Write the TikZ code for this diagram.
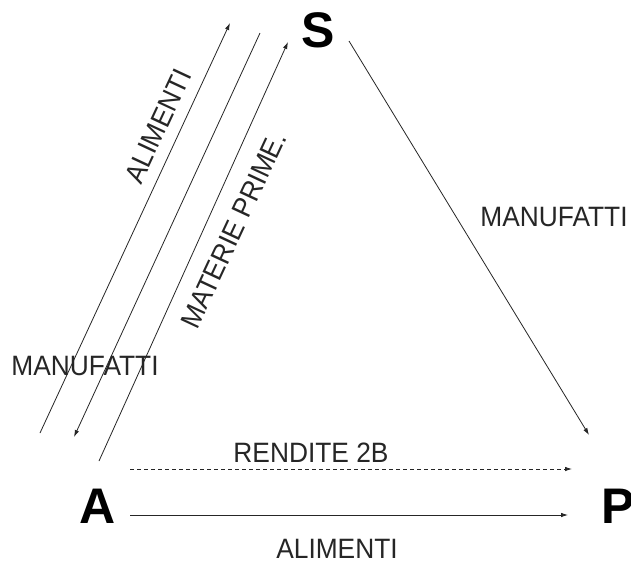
\documentclass[tikz,border=0pt]{standalone}
\usepackage{fontspec}
\setmainfont{Liberation Sans}
\usetikzlibrary{arrows.meta}
\newcommand\narrowtxt[1]{\scalebox{0.94}[1]{#1}}
\begin{document}
\begin{tikzpicture}[x=1pt,y=-1pt,
  lbl/.style={font=\fontsize{28}{30}\selectfont, inner sep=0pt, text=black!85},
  vertex/.style={font=\fontsize{50}{52}\selectfont\bfseries, inner sep=0pt},
  flow/.style={line width=0.8pt, draw=black!85, -{Latex[length=7pt,width=4.5pt]}},
  plain/.style={line width=0.8pt, draw=black!85},
]
\useasboundingbox (0,0) rectangle (631,563);
\fill[white] (0,0) rectangle (631,563);

% vertices
\node[vertex] (S) at (318,30) {S};
\node[vertex] (A) at (97.5,506) {A};
\node[vertex] (P) at (618,506) {P};

% connector end points
\coordinate (l1a) at (40,433);
\coordinate (l1b) at (230,23);
\coordinate (l2a) at (260,33);
\coordinate (l2b) at (74,437);
\coordinate (l3a) at (99,461);
\coordinate (l3b) at (288,42);
\coordinate (spa) at (349,41);
\coordinate (spb) at (589,435);
\coordinate (ra) at (130,469);
\coordinate (rb) at (572,469);
\coordinate (aa) at (130,515);
\coordinate (ab) at (568,515);

% connectors
\draw[flow] (l1a) -- (l1b);
\draw[flow] (l2a) -- (l2b);
\draw[flow] (l3a) -- (l3b);
\draw[flow] (spa) -- (spb);
\draw[flow, dash pattern=on 4pt off 3pt] (ra) -- (rb);
\draw[flow] (aa) -- (ab);

% labels
\node[lbl, rotate=65] (alim1) at (158,126) {\narrowtxt{ALIMENTI}};
\node[lbl, rotate=65] (mat) at (233.5,230) {\narrowtxt{MATERIE PRIME.}};
\node[lbl] (man1) at (85,366) {\narrowtxt{MANUFATTI}};
\node[lbl] (man2) at (554,217) {\narrowtxt{MANUFATTI}};
\node[lbl] (rend) at (311,452.5) {\narrowtxt{RENDITE 2B}};
\node[lbl] (alim2) at (337,549) {\narrowtxt{ALIMENTI}};
\end{tikzpicture}
\end{document}
